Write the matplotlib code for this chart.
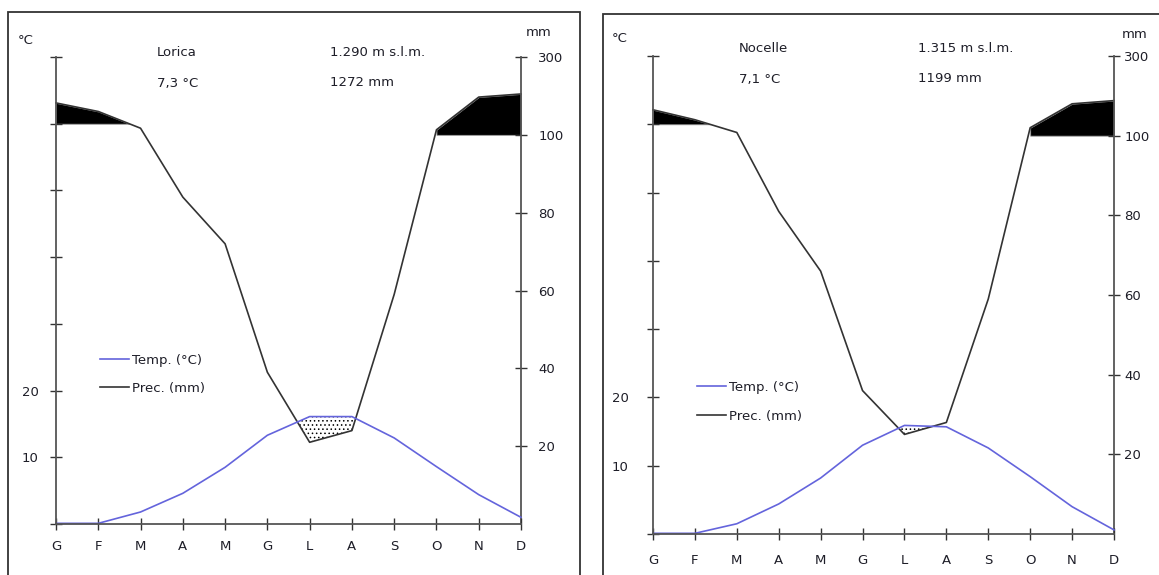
import numpy as np
import matplotlib
matplotlib.use('Agg')
import matplotlib.pyplot as plt
from matplotlib.patches import Rectangle

# data
months = ['G', 'F', 'M', 'A', 'M', 'G', 'L', 'A', 'S', 'O', 'N', 'D']

lorica_temp = [0.1, 0.1, 1.8, 4.6, 8.5, 13.3, 16.1, 16.1, 12.9, 8.6, 4.4, 1.0]
lorica_prec = [182, 160, 117, 84, 72, 39, 21, 24, 59, 113, 197, 205]

nocelle_temp = [0.1, 0.1, 1.5, 4.4, 8.2, 13.0, 15.9, 15.7, 12.6, 8.4, 4.0, 0.6]
nocelle_prec = [165, 140, 108, 81, 66, 36, 25, 28, 59, 120, 180, 188]

stations = ['Lorica', 'Nocelle']
altitudes = ['1.290 m s.l.m.', '1.315 m s.l.m.']
mean_temps = ['7,3 °C', '7,1 °C']
totals = ['1272 mm', '1199 mm']

W, H = 1159, 575
T_TOP = 70
P_TOP = 300
TEMP_COLOR = '#6464dc'
PREC_COLOR = '#333333'
TEXT_COLOR = '#1e1e28'
AXIS_COLOR = '#555555'

plt.rcParams['font.family'] = 'DejaVu Sans'
plt.rcParams['font.size'] = 9.5
plt.rcParams['hatch.linewidth'] = 0.6


def fwd(v):
    # above 100 mm the scale is compressed 1:10
    v = np.asarray(v, dtype=float)
    return np.where(v <= 100, v, 100 + (v - 100) / 10.0)


def inv(v):
    v = np.asarray(v, dtype=float)
    return np.where(v <= 100, v, 100 + (v - 100) * 10.0)


def fx(x):
    return x / W


def fy(y):
    return 1 - y / H


def draw_panel(fig, box, frame, temp, prec, name, alt, tmean, tot, txt, leg):
    x0, y0, x1, y1 = box
    ax_t = fig.add_axes([fx(x0), fy(y1), fx(x1) - fx(x0), fy(y0) - fy(y1)])
    ax_p = ax_t.twinx()
    ax_t.set_zorder(ax_p.get_zorder() + 1)
    ax_t.patch.set_visible(False)

    x = np.arange(len(months))
    temp = np.array(temp)
    prec = np.array(prec, dtype=float)

    ax_p.set_yscale('function', functions=(fwd, inv))
    ax_p.set_ylim(0, P_TOP)
    ax_t.set_ylim(0, T_TOP)
    ax_t.set_xlim(0, len(months) - 1)

    # temperature expressed on the precipitation axis
    temp_mm = inv(temp / T_TOP * fwd(P_TOP))

    # dry period (dotted)
    ax_p.fill_between(x, prec, temp_mm, where=temp_mm >= prec, interpolate=True,
                      facecolor='white', edgecolor='black', hatch='....', linewidth=0)

    # wet period above 100 mm (black)
    base_early = float(inv(60 / T_TOP * fwd(P_TOP)))
    ax_p.fill_between(x, prec, base_early, where=(x < 6) & (prec >= base_early),
                      interpolate=True, facecolor='black', edgecolor='#999999', linewidth=0.6)
    ax_p.fill_between(x, prec, 100, where=(x >= 6) & (prec >= 100),
                      interpolate=False, facecolor='black', edgecolor='#999999', linewidth=0.6)

    lp, = ax_p.plot(x, prec, color=PREC_COLOR, lw=1.2, clip_on=False)
    lt, = ax_t.plot(x, temp, color=TEMP_COLOR, lw=1.2, clip_on=False)

    for s in ['top', 'right']:
        ax_t.spines[s].set_visible(False)
    for s in ['top', 'left', 'bottom']:
        ax_p.spines[s].set_visible(False)
    for s in ['left', 'bottom']:
        ax_t.spines[s].set_color(AXIS_COLOR)
        ax_t.spines[s].set_linewidth(1.3)
    ax_p.spines['right'].set_color(AXIS_COLOR)
    ax_p.spines['right'].set_linewidth(1.3)

    ax_t.set_xticks(x)
    ax_t.set_xticklabels(months)
    ax_t.set_yticks(range(0, T_TOP + 1, 10))
    ax_t.set_yticklabels(['' if v not in (10, 20) else str(v) for v in range(0, T_TOP + 1, 10)])
    ax_p.set_yticks([20, 40, 60, 80, 100, 300])
    ax_p.set_yticklabels(['20', '40', '60', '80', '100', '300'])
    ax_p.yaxis.set_minor_locator(matplotlib.ticker.NullLocator())

    ax_t.tick_params(axis='x', direction='inout', length=9, width=1, color='#333333',
                     pad=txt['xpad'], labelcolor=TEXT_COLOR)
    ax_t.tick_params(axis='y', direction='inout', length=9, width=1, color='#333333',
                     pad=txt['lpad'], labelcolor=TEXT_COLOR)
    ax_p.tick_params(axis='y', direction='inout', length=9, width=1, color='#333333',
                     pad=txt['rpad'], labelcolor=TEXT_COLOR)

    ax_t.legend([lt, lp], ['Temp. (°C)', 'Prec. (mm)'], loc='upper left',
                bbox_to_anchor=(fx(leg[0]), fy(leg[1])), bbox_transform=fig.transFigure,
                frameon=False, borderpad=0, borderaxespad=0, handlelength=2.2,
                handletextpad=0.25, labelspacing=txt['lspace'], labelcolor=TEXT_COLOR)

    fig.text(fx(txt['degc'][0]), fy(txt['degc'][1]), '°C', va='center', color=TEXT_COLOR)
    fig.text(fx(txt['mm'][0]), fy(txt['mm'][1]), 'mm', va='center', color=TEXT_COLOR)
    fig.text(fx(txt['c1']), fy(txt['r1']), name, va='center', color=TEXT_COLOR)
    fig.text(fx(txt['c2']), fy(txt['r1']), alt, va='center', color=TEXT_COLOR)
    fig.text(fx(txt['c1']), fy(txt['r2']), tmean, va='center', color=TEXT_COLOR)
    fig.text(fx(txt['c2']), fy(txt['r2']), tot, va='center', color=TEXT_COLOR)

    fx0, fy0, fx1 = frame
    fig.add_artist(Rectangle((fx(fx0), -0.2), fx(fx1) - fx(fx0), fy(fy0) + 0.2,
                             transform=fig.transFigure, fill=False,
                             edgecolor='#333333', lw=1.3, clip_on=False))


def main():
    fig = plt.figure(figsize=(W / 100, H / 100), dpi=100)

    draw_panel(fig, (56, 57, 521, 524), (8, 12, 580),
               lorica_temp, lorica_prec, stations[0], altitudes[0], mean_temps[0], totals[0],
               {'degc': (18, 41), 'mm': (526, 33), 'c1': 157, 'c2': 330, 'r1': 53, 'r2': 83,
                'lpad': 8, 'rpad': 8, 'xpad': 7, 'lspace': 1.1},
               (100, 354))
    draw_panel(fig, (653, 56, 1114, 534), (603, 14, 1170),
               nocelle_temp, nocelle_prec, stations[1], altitudes[1], mean_temps[1], totals[1],
               {'degc': (612, 38), 'mm': (1122, 35), 'c1': 739, 'c2': 918, 'r1': 48, 'r2': 79,
                'lpad': 13, 'rpad': 3, 'xpad': 10, 'lspace': 1.2},
               (697, 381))

    fig.savefig('out.png', dpi=100)


if __name__ == "__main__":
    main()
